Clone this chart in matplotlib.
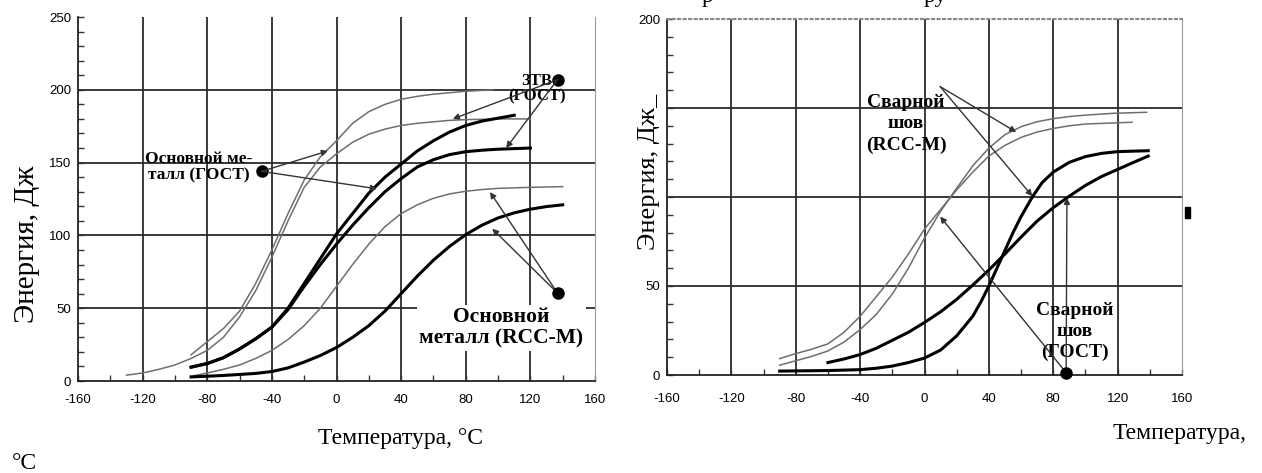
import numpy as np
import matplotlib
matplotlib.use("Agg")
import matplotlib.pyplot as plt
from matplotlib.patches import Rectangle

plt.rcParams['font.family'] = ['Liberation Serif', 'DejaVu Serif']

# ---------- data, left chart (основной металл / ЗТВ) ----------
x_ticks = [-160, -120, -80, -40, 0, 40, 80, 120, 160]
left_y_ticks = [0, 50, 100, 150, 200, 250]
right_y_ticks = [0, 50, 100, 150, 200]
right_y_labels = ['0', '50', '', '', '200']

bm_gost_thin_x = [-90, -80, -70, -60, -50, -40, -30, -20, -10, 0, 10, 20, 30, 40, 50, 60, 70, 80, 97]
bm_gost_thin_y = [18, 27, 36, 48, 67, 90, 115, 138, 154, 165, 177, 185, 190, 193.5, 195.5, 197, 198, 199, 200]

ztv_thin_x = [-130, -120, -110, -100, -90, -80, -70, -60, -50, -40, -30, -20, -10, 0, 10, 20, 30, 40, 50, 60, 70, 80, 100, 120]
ztv_thin_y = [4, 5.5, 8, 11, 15.5, 21, 30, 44, 62, 85, 110, 133, 147, 156, 164, 169.5, 173, 175.5, 177, 178, 179, 179.5, 180, 180]

bm_gost_thick_x = [-90, -80, -70, -60, -50, -40, -30, -20, -10, 0, 10, 20, 30, 40, 50, 60, 70, 80, 90, 100, 110]
bm_gost_thick_y = [9.5, 12, 16, 22, 29, 37, 50, 67, 84, 101, 115, 129, 140, 149, 158, 165, 171, 175.5, 178.5, 180.5, 182.5]

ztv_thick_x = [-90, -80, -70, -60, -50, -40, -30, -20, -10, 0, 10, 20, 30, 40, 50, 60, 70, 80, 90, 100, 120]
ztv_thick_y = [9.5, 12, 16, 22, 29, 37, 49, 65, 80, 94, 107, 119, 130, 139, 147, 152, 155.5, 157.5, 158.5, 159.2, 160]

bm_rcc_thin_x = [-90, -80, -70, -60, -50, -40, -30, -20, -10, 0, 10, 20, 30, 40, 50, 60, 70, 80, 90, 100, 120, 140]
bm_rcc_thin_y = [3.2, 5.5, 8, 11, 15.5, 21, 28.5, 38, 50, 65, 80, 94, 106, 115, 121, 125.5, 128.5, 130.3, 131.5, 132.3, 133, 133.5]

bm_rcc_thick_x = [-90, -80, -70, -60, -50, -40, -30, -20, -10, 0, 10, 20, 30, 40, 50, 60, 70, 80, 90, 100, 110, 120, 130, 140]
bm_rcc_thick_y = [2.8, 3.3, 3.8, 4.5, 5.2, 6.5, 9, 13, 17.5, 23, 30, 38, 48, 60, 72, 83, 92.5, 100.5, 107, 112, 115.5, 118, 119.8, 121]

# ---------- data, right chart (сварной шов) ----------
weld_thin1_x = [-90, -80, -70, -60, -50, -40, -30, -20, -10, 0, 10, 20, 30, 40, 50, 60, 70, 80, 90, 100, 117, 138]
weld_thin1_y = [5.5, 8, 10.5, 13.5, 18.5, 25.5, 34, 45.5, 60, 77, 92, 105, 117.5, 127.5, 135, 139.5, 142.3, 144, 145.2, 146, 147, 147.6]

weld_thin2_x = [-90, -80, -70, -60, -50, -40, -30, -20, -10, 0, 10, 20, 30, 40, 50, 60, 70, 80, 90, 100, 129]
weld_thin2_y = [9.2, 12, 14.5, 17.5, 24, 33, 44, 55, 68, 82, 93, 104, 114, 123, 129, 133.5, 136.5, 138.5, 140, 141, 142]

weld_thick1_x = [-60, -50, -40, -30, -20, -10, 0, 10, 20, 30, 40, 50, 60, 70, 80, 90, 100, 110, 120, 130, 139]
weld_thick1_y = [7, 9, 11.5, 15, 19.5, 24, 29.5, 35.5, 42.5, 50.5, 59, 68, 77.5, 86.5, 94, 100.5, 106.5, 111.5, 115.5, 119.5, 123]

weld_thick2_x = [-90, -70, -60, -40, -30, -20, -10, 0, 10, 20, 30, 35, 40, 45, 50, 55, 60, 67, 73, 80, 90, 100, 110, 120, 139]
weld_thick2_y = [2.2, 2.4, 2.5, 3, 3.8, 5, 7, 9.5, 14, 22, 33, 41, 50, 60, 70, 80, 89, 100, 108, 114, 119.5, 122.7, 124.5, 125.5, 126]

THIN = dict(color='#6e6e6e', lw=1.1, solid_joinstyle='round')
THICK = dict(color='black', lw=2.2, solid_joinstyle='round')
GRID = dict(color='#2b2b2b', lw=1.3, zorder=0.5)
ARROW = dict(arrowstyle='-|>', color='#333333', lw=1.0, mutation_scale=9, shrinkA=0, shrinkB=0)
TICKFONT = dict(family='Liberation Sans', size=9.5)


def style_axes(ax, yticks, ylabels=None):
    ax.set_xlim(-160, 160)
    ax.set_xticks(x_ticks)
    ax.set_xticks(np.arange(-140, 160, 40), minor=True)
    ax.set_yticks(yticks)
    ax.set_yticks(np.arange(0, yticks[-1] + 1, 10), minor=True)
    ax.set_xticklabels([str(v) for v in x_ticks], **TICKFONT)
    ax.set_yticklabels(ylabels if ylabels else [str(v) for v in yticks], **TICKFONT)
    ax.tick_params(which='both', direction='in', length=4, width=1, colors='#333333',
                   labelcolor='black')
    ax.tick_params(axis='y', pad=5)
    for v in x_ticks[1:-1]:
        ax.axvline(v, **GRID)
    for v in yticks[1:-1]:
        ax.axhline(v, **GRID)
    ax.spines['left'].set_color('#222222')
    ax.spines['bottom'].set_color('#222222')
    ax.spines['left'].set_linewidth(1.3)
    ax.spines['bottom'].set_linewidth(1.3)
    ax.spines['right'].set_color('#9a9a9a')


fig = plt.figure(figsize=(12.62, 4.73), dpi=100)
W, H = 1262.0, 473.0

# ---------------- left chart ----------------
ax1 = fig.add_axes([78 / W, 1 - 381 / H, 517 / W, 364 / H])
ax1.set_ylim(0, 250)
style_axes(ax1, left_y_ticks)
ax1.tick_params(axis='x', pad=9)
ax1.spines['top'].set_visible(False)

ax1.plot(bm_gost_thin_x, bm_gost_thin_y, **THIN)
ax1.plot(ztv_thin_x, ztv_thin_y, **THIN)
ax1.plot(bm_rcc_thin_x, bm_rcc_thin_y, **THIN)
ax1.plot(bm_gost_thick_x, bm_gost_thick_y, **THICK)
ax1.plot(ztv_thick_x, ztv_thick_y, **THICK)
ax1.plot(bm_rcc_thick_x, bm_rcc_thick_y, **THICK)

ax1.text(-85, 147, 'Основной ме-\nталл (ГОСТ)', ha='center', va='center',
         fontsize=12.5, weight='bold', linespacing=1.0)
ax1.plot(-46.4, 144, 'o', color='black', ms=8)
ax1.annotate('', xy=(-5.3, 158), xytext=(-46.4, 144), arrowprops=ARROW)
ax1.annotate('', xy=(25, 132), xytext=(-46.4, 144), arrowprops=ARROW)

ax1.text(124, 201, 'ЗТВ\n(ГОСТ)', ha='center', va='center',
         fontsize=12, weight='bold', linespacing=0.95)
ax1.plot(136.8, 207, 'o', color='black', ms=8, clip_on=False)
ax1.annotate('', xy=(72, 180), xytext=(136.8, 207), arrowprops=ARROW)
ax1.annotate('', xy=(105, 160), xytext=(136.8, 207), arrowprops=ARROW)

ax1.text(102, 36.5, 'Основной\nметалл (RCC-M)', ha='center', va='center',
         fontsize=15.5, weight='bold', linespacing=1.1,
         bbox=dict(facecolor='white', edgecolor='none', pad=1.5), zorder=3)
ax1.plot(136.8, 60.4, 'o', color='black', ms=8, zorder=4)
ax1.annotate('', xy=(95, 129.8), xytext=(136.8, 60.4), arrowprops=ARROW)
ax1.annotate('', xy=(96.4, 104.6), xytext=(136.8, 60.4), arrowprops=ARROW)

# ---------------- right chart ----------------
ax2 = fig.add_axes([667 / W, 1 - 375 / H, 515 / W, 356 / H])
ax2.set_ylim(0, 200)
style_axes(ax2, right_y_ticks, right_y_labels)
ax2.tick_params(axis='x', pad=13)
ax2.spines['top'].set_linestyle(':')
ax2.spines['top'].set_color('#888888')
ax2.spines['top'].set_linewidth(1.5)

ax2.plot(weld_thin1_x, weld_thin1_y, **THIN)
ax2.plot(weld_thin2_x, weld_thin2_y, **THIN)
ax2.plot(weld_thick1_x, weld_thick1_y, **THICK)
ax2.plot(weld_thick2_x, weld_thick2_y, **THICK)

ax2.text(-11.5, 141, 'Сварной\nшов\n(RCC-M)', ha='center', va='center',
         fontsize=14, weight='bold', linespacing=1.3)
ax2.annotate('', xy=(57, 136.5), xytext=(9.75, 162), arrowprops=ARROW)
ax2.annotate('', xy=(67, 100.5), xytext=(9.75, 162), arrowprops=ARROW)

ax2.text(93.5, 24.5, 'Сварной\nшов\n(ГОСТ)', ha='center', va='center',
         fontsize=14, weight='bold', linespacing=1.3)
ax2.plot(88, 1.3, 'o', color='black', ms=8, clip_on=False, zorder=5)
ax2.annotate('', xy=(9.75, 89), xytext=(88, 1.3), arrowprops=ARROW)
ax2.annotate('', xy=(88.5, 99.6), xytext=(88, 1.3), arrowprops=ARROW)

# ---------------- figure texts ----------------
fig.text(27 / W, 1 - 244 / H, 'Энергия, Дж', rotation=90, ha='center', va='center', fontsize=21)
fig.text(649 / W, 1 - 172 / H, 'Энергия, Дж_', rotation=90, ha='center', va='center', fontsize=19)
fig.text(400 / W, 1 - 438 / H, 'Температура, °С', ha='center', va='center', fontsize=17)
fig.text(24 / W, 1 - 463 / H, '°С', ha='center', va='center', fontsize=17)
fig.text(1180 / W, 1 - 433 / H, 'Температура,', ha='center', va='center', fontsize=17)
# clipped remains of a line above the charts (cut off in the reference too)
fig.text(708 / W, 1 - 2 / H, 'р', ha='center', va='baseline', fontsize=17)
fig.text(935 / W, 1 - 2 / H, 'ру', ha='center', va='baseline', fontsize=17)
fig.add_artist(Rectangle((1185 / W, 1 - 218 / H), 5 / W, 11 / H, color='black'))

fig.savefig('out.png', dpi=100)
